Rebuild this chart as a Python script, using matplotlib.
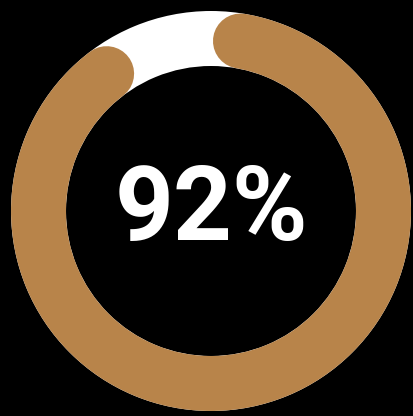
import numpy as np
import matplotlib
matplotlib.use("Agg")
import matplotlib.pyplot as plt
from matplotlib.patches import Wedge

# data
value = 92          # percent
label = "92%"

W, H = 413, 416
fig = plt.figure(figsize=(W / 100, H / 100), dpi=100, facecolor="black")
ax = fig.add_axes([0, 0, 1, 1])
ax.set_facecolor("black")
ax.set_xlim(0, W)
ax.set_ylim(H, 0)
ax.axis("off")

cx, cy = 211, 211
r_out, r_in = 200, 145
width = r_out - r_in
r_mid = (r_out + r_in) / 2
brown = "#B8844A"

# background track
ax.add_patch(Wedge((cx, cy), r_out, 0, 360, width=width, facecolor="white", edgecolor="none"))

# progress arc with round caps (total visual span = value% of circle)
cap_deg = np.degrees((width / 2) / r_mid)
start = 0.7 + cap_deg
end = start + value / 100 * 360 - 2 * cap_deg
theta = np.radians(np.linspace(start, end, 600))
xs = cx + r_mid * np.sin(theta)
ys = cy - r_mid * np.cos(theta)
lw_pt = width * 72 / 100
ax.plot(xs, ys, color=brown, lw=lw_pt, solid_capstyle="round")

ax.text(cx, 240, label, color="white", fontsize=74, fontweight="bold",
        family="Roboto", ha="center", va="baseline")

fig.savefig("out.png", dpi=100, facecolor="black")
